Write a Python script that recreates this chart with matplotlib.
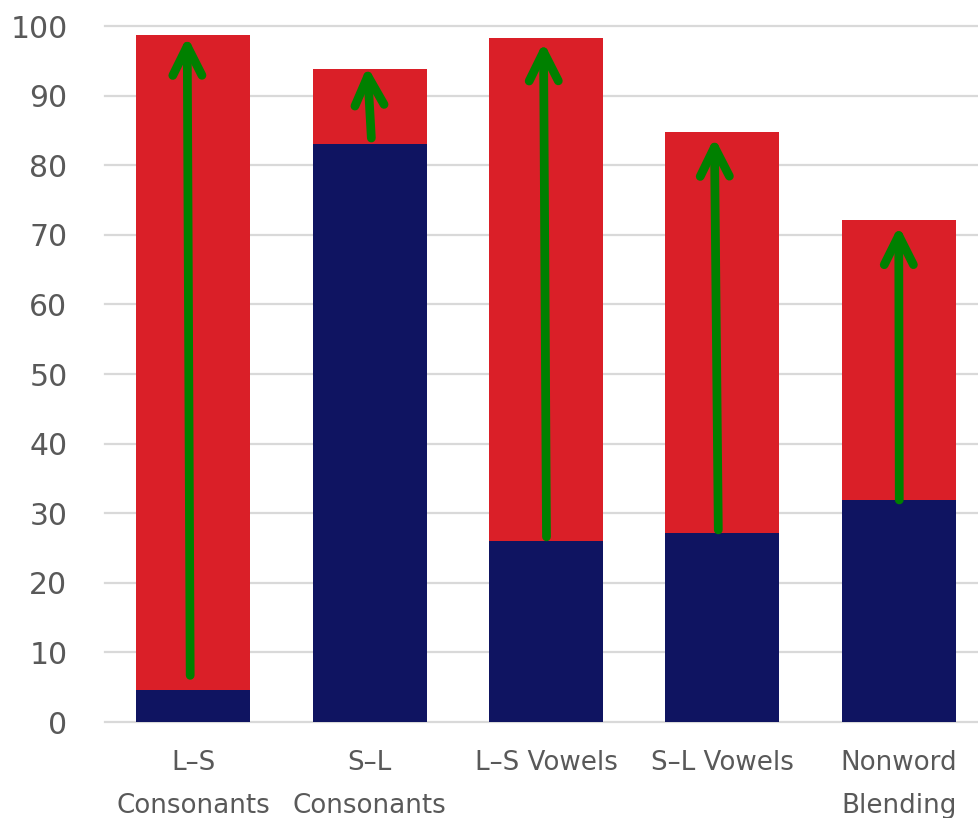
import matplotlib
matplotlib.use("Agg")
import matplotlib.pyplot as plt
from matplotlib.patches import FancyArrowPatch
import numpy as np

# Scores before and after, per task
categories = ["L–S\nConsonants", "S–L\nConsonants", "L–S Vowels", "S–L Vowels", "Nonword\nBlending"]
pre_scores = [4.6, 83.1, 26.0, 27.2, 31.9]
post_scores = [98.7, 93.8, 98.3, 84.7, 72.1]

# Hand-drawn improvement arrows: base and tip values, with small horizontal drift
arrow_base = [6.7, 83.9, 26.6, 27.6, 31.9]
arrow_tip = [98.5, 94.2, 97.7, 84.0, 71.3]
arrow_base_dx = [-0.017, 0.010, 0.003, -0.023, 0.003]
arrow_tip_dx = [-0.034, -0.013, -0.014, -0.045, 0.0]

yticks = list(range(0, 101, 10))

NAVY = "#0F1461"
RED = "#DA1F28"
GREEN = "#008000"
GREY_TEXT = "#595959"
GRID = "#D9D9D9"

W, H = 979, 818
fig = plt.figure(figsize=(W / 100, H / 100), dpi=100)
ax = fig.add_axes([105 / W, (H - 722) / H, (979 - 105) / W, (722 - 26) / H])

x = np.arange(len(categories))
pre = np.array(pre_scores)
post = np.array(post_scores)
bar_w = 0.646

ax.bar(x, pre, width=bar_w, color=NAVY, zorder=2)
ax.bar(x, post - pre, bottom=pre, width=bar_w, color=RED, zorder=2)

for i in range(len(categories)):
    arrow = FancyArrowPatch(
        (x[i] + arrow_base_dx[i], arrow_base[i]),
        (x[i] + arrow_tip_dx[i], arrow_tip[i]),
        arrowstyle="->,head_length=21,head_width=10.5",
        mutation_scale=1,
        shrinkA=0, shrinkB=0,
        lw=6.3, color=GREEN,
        capstyle="round", joinstyle="round",
        zorder=3,
    )
    ax.add_patch(arrow)

ax.set_xlim(-0.5, 4.455)
ax.set_ylim(0, 100)
ax.set_yticks(yticks)
ax.set_yticklabels([str(t) for t in yticks])
ax.yaxis.grid(True, color=GRID, lw=1.6, zorder=0)
ax.set_axisbelow(True)
for gl in ax.get_ygridlines():
    gl.set_clip_on(False)

for s in ax.spines.values():
    s.set_visible(False)

ax.tick_params(axis="y", length=0, pad=27, labelsize=21.5, labelcolor=GREY_TEXT)
ax.tick_params(axis="x", length=0, pad=20, labelsize=18.8, labelcolor=GREY_TEXT)
ax.set_xticks(x)
ax.set_xticklabels(categories, linespacing=1.87)

fig.savefig("out.png", dpi=100)
